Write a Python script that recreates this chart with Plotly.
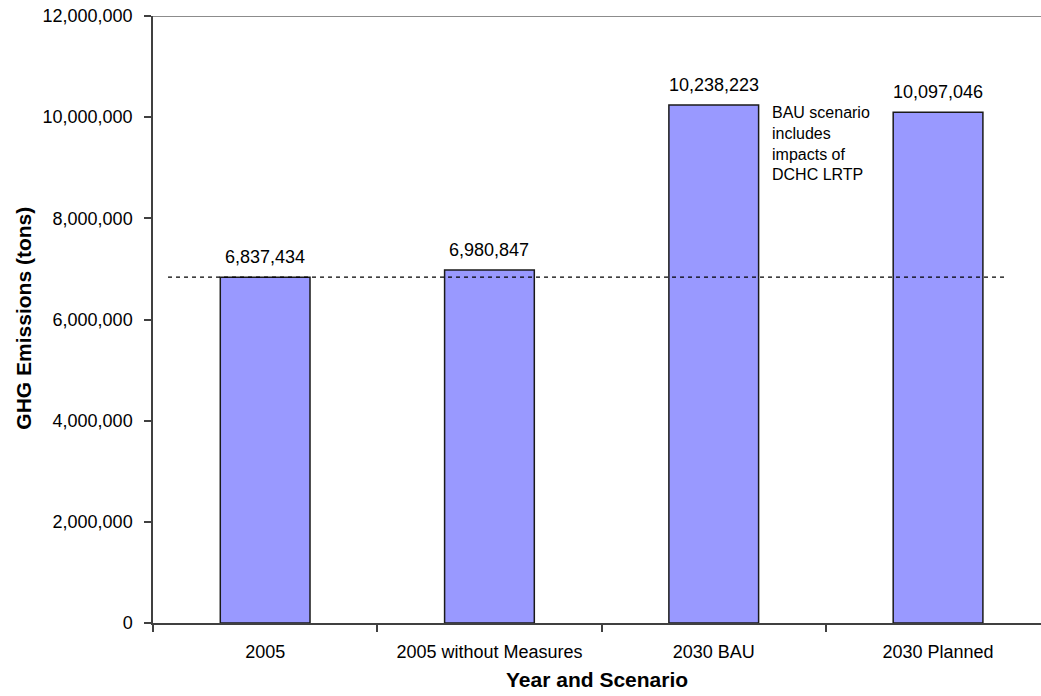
import plotly.graph_objects as go

categories = ["2005", "2005 without Measures", "2030 BAU", "2030 Planned"]
emissions = [6837434, 6980847, 10238223, 10097046]
y_ticks = [0, 2000000, 4000000, 6000000, 8000000, 10000000, 12000000]
baseline = emissions[0]
note_text = "BAU scenario<br>includes<br>impacts of<br>DCHC LRTP"
x_title = "Year and Scenario"
y_title = "GHG Emissions (tons)"

FONT = "Liberation Sans, Arial, sans-serif"

fig = go.Figure()
fig.add_trace(go.Bar(
    x=categories, y=emissions, width=0.4,
    marker=dict(color="#9999FF", line=dict(color="#1a1a1a", width=1.5)),
    showlegend=False, hoverinfo="skip",
))

# value labels above bars (category index positions)
for i, v in enumerate(emissions):
    fig.add_annotation(x=i, y=v, xref="x", yref="y", text=f"{v:,}", showarrow=False,
                       xanchor="center", yanchor="bottom", yshift=8,
                       font=dict(family=FONT, size=18, color="#000000"))

# baseline dashed line
fig.add_shape(type="line", xref="x", yref="y", x0=-0.433, x1=3.312,
              y0=baseline, y1=baseline, layer="above",
              line=dict(color="#000000", width=1.2, dash="4px,4px"))

# top border of plot area
fig.add_shape(type="line", xref="paper", yref="y", x0=0, x1=1,
              y0=y_ticks[-1], y1=y_ticks[-1],
              line=dict(color="#8c8c8c", width=2))

fig.add_annotation(x=2.25, y=emissions[2], xref="x", yref="y", text=note_text,
                   showarrow=False, xanchor="left", yanchor="top", align="left",
                   yshift=3, font=dict(family=FONT, size=16, color="#000000"))

fig.add_annotation(x=0.5, y=-0.093, xref="paper", yref="paper", text=f"<b>{x_title}</b>",
                   showarrow=False, xanchor="center", yanchor="middle",
                   font=dict(family=FONT, size=21, color="#000000"))
fig.add_annotation(x=-0.146, y=0.502, xref="paper", yref="paper", text=f"<b>{y_title}</b>",
                   showarrow=False, xanchor="center", yanchor="middle", textangle=-90,
                   font=dict(family=FONT, size=21, color="#000000"))

fig.update_layout(
    width=1041, height=696,
    margin=dict(l=153, r=0, t=16, b=73),
    paper_bgcolor="white", plot_bgcolor="white",
    font=dict(family=FONT, size=18, color="#000000"),
    bargap=0.6,
)
fig.update_xaxes(
    type="category", range=[-0.5, 3.459],
    showline=True, linecolor="#404040", linewidth=1.5,
    ticks="outside", tickson="boundaries", ticklen=7, tickcolor="#404040", tickwidth=1.5,
    ticklabelstandoff=12, showgrid=False, zeroline=False,
    tickfont=dict(family=FONT, size=18, color="#000000"),
)
fig.update_yaxes(
    range=[0, 12000000], tickvals=y_ticks, tickformat=",d",
    showline=True, linecolor="#404040", linewidth=1.5,
    ticks="outside", ticklen=7, tickcolor="#404040", tickwidth=1.5,
    ticklabelstandoff=8, showgrid=False, zeroline=False,
    tickfont=dict(family=FONT, size=18, color="#000000"),
)

fig.write_html("out.html")
